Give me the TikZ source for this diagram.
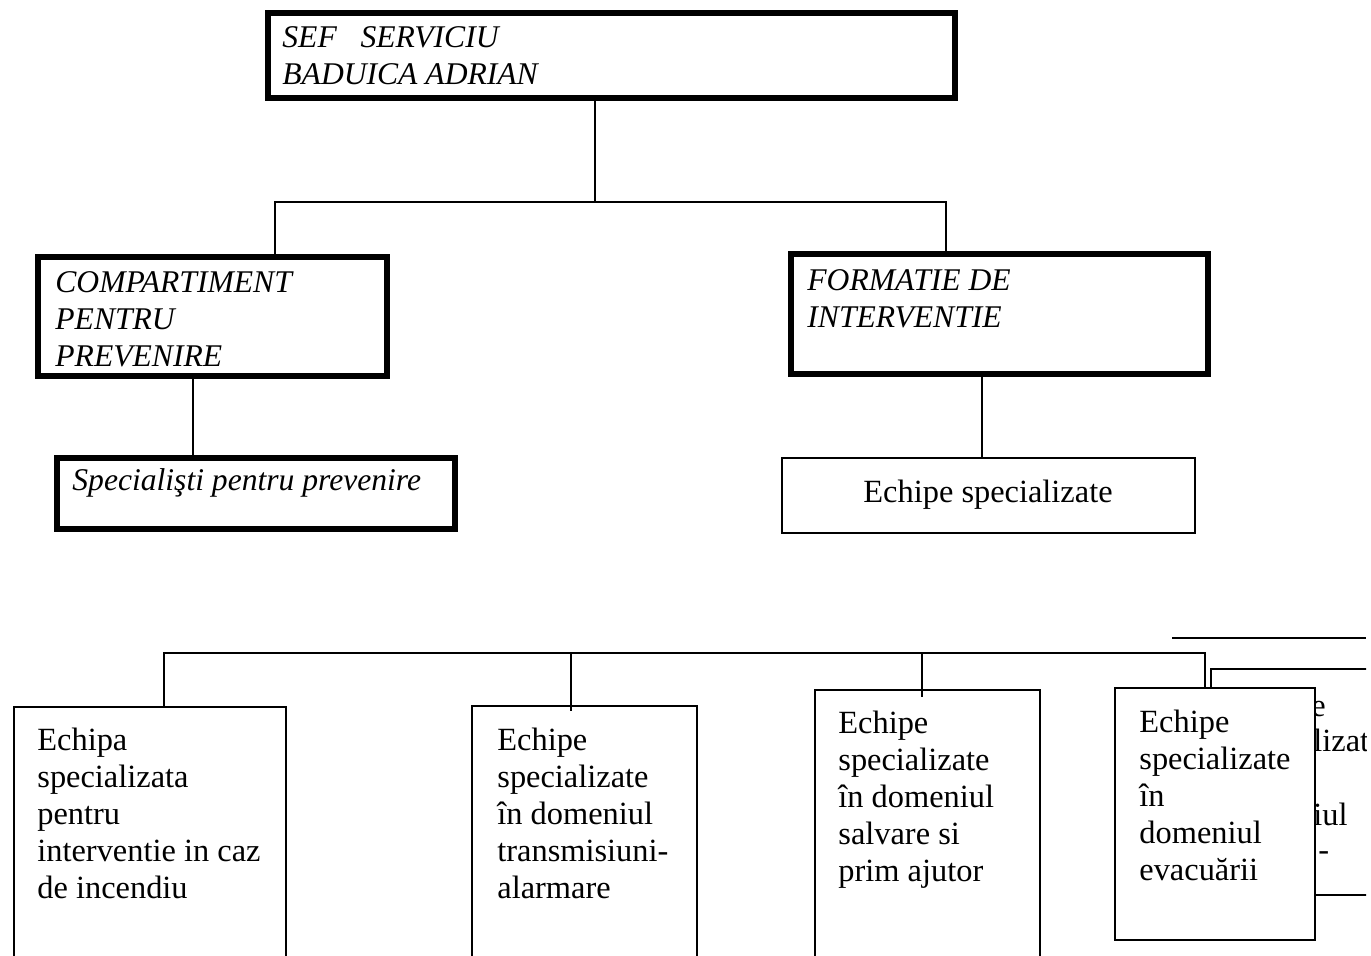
\documentclass[tikz,border=0pt]{standalone}
\usepackage{fontspec}
\setmainfont{Liberation Serif}
\usetikzlibrary{fit}
\begin{document}
\begin{tikzpicture}[x=0.5pt,y=-0.5pt,
  thickbox/.style={draw, line width=3pt, inner sep=0pt, fill=white},
  thinbox/.style={draw, line width=1.2pt, inner sep=0pt, fill=white},
  conn/.style={line width=1pt},
  itxt/.style={font=\fontsize{15.8}{18.5}\selectfont\itshape, inner sep=0pt, anchor=base west, align=left},
  rtxt/.style={font=\fontsize{16.2}{18.5}\selectfont, inner sep=0pt, anchor=base west, align=left}]
\useasboundingbox (0,0) rectangle (1371,955);
\clip (0,0) rectangle (1366,955);

% top level (text nodes anchored at the baseline of their last line)
\node[thickbox, fit={(268,13) (955,98)}] (sef) {};
\node[itxt] (sefT) at (282,84) {SEF\ \ \ SERVICIU\\BADUICA ADRIAN};

\node[thickbox, fit={(38,257) (387,376)}] (comp) {};
\node[itxt] (compT) at (55,366) {COMPARTIMENT\\PENTRU\\PREVENIRE};

\node[thickbox, fit={(791,254) (1208,374)}] (form) {};
\node[itxt] (formT) at (807,327) {FORMATIE DE\\INTERVENTIE};

\node[thickbox, fit={(57,458) (455,529)}] (spec) {};
\node[itxt] (specT) at (72,490) {Specialişti pentru prevenire};

\node[thinbox, fit={(782,458) (1195,533)}] (echs) {};
\node[rtxt, anchor=base] (echsT) at (988,502) {Echipe specializate};

% bottom row
\node[thinbox, fit={(14,707) (286,990)}] (e1) {};
\node[rtxt] (e1T) at (37,898) {Echipa\\specializata\\pentru\\interventie in caz\\de incendiu};

\node[thinbox, fit={(472,706) (697,990)}] (e2) {};
\node[rtxt] (e2T) at (497,898) {Echipe\\specializate\\în domeniul\\transmisiuni-\\alarmare};

\node[thinbox, fit={(815,690) (1040,990)}] (e3) {};
\node[rtxt] (e3T) at (838,881) {Echipe\\specializate\\în domeniul\\salvare si\\prim ajutor};

% partly hidden box behind the fourth one: only the visible fragments of its text
\node[thinbox, fit={(1211,669) (1450,895)}] (e5) {};
\node[rtxt] (e5a) at (1311,716) {e};
\node[rtxt] (e5b) at (1313,751) {lizat};
\node[rtxt] (e5c) at (1313,825) {iul};
\node[rtxt] (e5D) at (1318,860) {-};

\node[thinbox, fit={(1115,688) (1315,940)}] (e4) {};
\node[rtxt] (e4T) at (1139,880) {Echipe\\specializate\\în\\domeniul\\evacuării};

% connectors
\coordinate (j0) at (595,202);
\coordinate (jl) at (275,202);
\coordinate (jr) at (946,202);
\draw[conn] (sef.south -| j0) -- (j0);
\draw[conn] (comp.north -| jl) -- (jl) -- (jr) -- (form.north -| jr);

\coordinate (c1) at (193,0);
\draw[conn] (comp.south -| c1) -- (spec.north -| c1);
\coordinate (c2) at (982,0);
\draw[conn] (form.south -| c2) -- (echs.north -| c2);

\coordinate (b1) at (164,653);
\coordinate (b2) at (571,653);
\coordinate (b3) at (922,653);
\coordinate (b4) at (1205,653);
\draw[conn] (e1.north -| b1) -- (b1) -- (b4) -- (e4.north -| b4);
\draw[conn] (b2) -- ([yshift=-3pt]e2.north -| b2);
\draw[conn] (b3) -- ([yshift=-4pt]e3.north -| b3);

\coordinate (t1) at (1172,638);
\coordinate (t2) at (1366,638);
\draw[conn] (t1) -- (t2);
\end{tikzpicture}
\end{document}
